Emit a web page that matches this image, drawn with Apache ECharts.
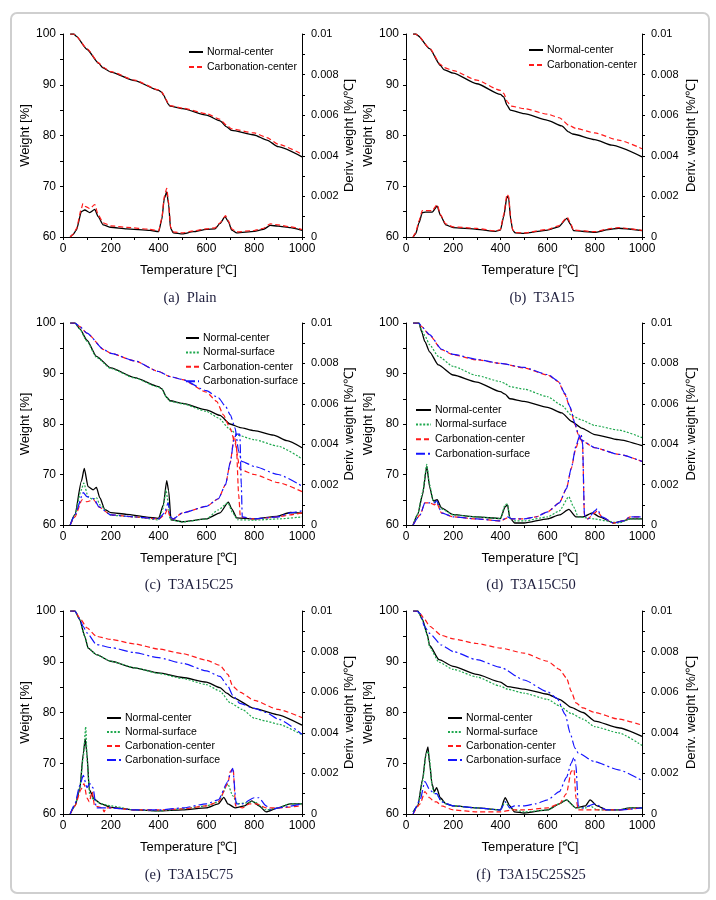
<!DOCTYPE html>
<html><head><meta charset="utf-8">
<script src="https://cdn.jsdelivr.net/npm/echarts@6/dist/echarts.min.js"></script>
<style>html,body{margin:0;padding:0;background:#fff}#c{width:716px;height:900px}</style>
</head><body><div id="c"></div><script>
// ---------- DATA (Temperature [°C], Weight [%]) and (Temperature, Deriv. weight [%/°C]) ----------
// (a) Plain
const a_nc_w=[[30,100],[45,100],[55,99.6],[100,97.0],[150,94.2],[165,93.4],[200,92.5],[300,90.8],[400,88.9],[413,88.5],[423,87.8],[431,87.0],[440,86.2],[448,85.8],[500,85.3],[600,84.0],[657,82.9],[685,81.7],[706,81.0],[800,80.1],[853,79.1],[900,77.8],[1000,75.8]];
const a_cc_w=[[30,100],[45,100],[55,99.6],[100,97.1],[150,94.3],[165,93.5],[200,92.6],[300,90.9],[400,89.0],[413,88.6],[423,87.9],[431,87.1],[440,86.3],[448,85.9],[500,85.4],[600,84.3],[657,83.2],[685,82.0],[706,81.3],[800,80.5],[853,79.6],[900,78.3],[1000,76.3]];
const a_nc_d=[[30,0],[40,0.0001],[56,0.00034],[77,0.00125],[91,0.00133],[112,0.0012],[133,0.00136],[147,0.001],[168,0.0006],[200,0.00048],[266,0.0004],[364,0.00033],[400,0.00026],[413,0.00084],[424,0.0019],[434,0.00222],[442,0.0016],[450,0.00043],[462,0.0002],[500,0.00015],[545,0.00026],[600,0.00038],[636,0.0004],[657,0.00067],[678,0.001],[692,0.00075],[706,0.00034],[727,0.0002],[800,0.00028],[839,0.00038],[867,0.00057],[900,0.00054],[951,0.00046],[1000,0.00033]];
const a_cc_d=[[30,0],[40,0.0001],[56,0.0004],[77,0.0014],[83,0.00165],[95,0.0015],[112,0.0014],[133,0.0016],[147,0.0011],[168,0.0007],[200,0.00055],[266,0.00047],[364,0.00038],[400,0.0003],[413,0.0009],[424,0.002],[434,0.0024],[442,0.0017],[450,0.0005],[462,0.00025],[500,0.0002],[545,0.0003],[600,0.0004],[636,0.00045],[657,0.0007],[680,0.00105],[692,0.0008],[706,0.0004],[727,0.00025],[800,0.00032],[839,0.00043],[867,0.00065],[900,0.0006],[951,0.0005],[1000,0.00037]];
// (b) T3A15
const b_nc_w=[[30,100],[42,100],[50,99.7],[100,97.1],[146,93.8],[160,93.0],[200,92.3],[300,90.2],[400,88.1],[414,87.6],[428,86.0],[442,85.0],[500,84.3],[600,83.0],[660,81.9],[689,80.7],[706,80.3],[800,79.2],[872,78.1],[1000,75.8]];
const b_cc_w=[[30,100],[42,100],[50,99.7],[100,97.2],[146,94.0],[160,93.4],[200,92.8],[300,90.9],[400,88.9],[414,88.3],[430,86.6],[445,85.8],[500,85.3],[600,84.2],[650,83.5],[690,82.0],[720,81.4],[800,80.5],[900,79.1],[1000,77.4]];
const b_nc_d=[[30,0],[41,0.00016],[55,0.0007],[69,0.0012],[83,0.00123],[111,0.00123],[132,0.00152],[146,0.00107],[168,0.0006],[200,0.00046],[300,0.00038],[379,0.00028],[400,0.00034],[414,0.001],[428,0.002],[435,0.0019],[444,0.00084],[452,0.00034],[463,0.0002],[500,0.00018],[600,0.00034],[646,0.0005],[682,0.00092],[696,0.00064],[710,0.00031],[800,0.00023],[858,0.00036],[900,0.00043],[1000,0.00031]];
const b_cc_d=[[30,0],[41,0.0002],[55,0.0008],[69,0.0013],[83,0.0013],[111,0.0013],[132,0.0016],[146,0.0011],[168,0.00065],[200,0.0005],[300,0.00042],[379,0.0003],[400,0.00036],[414,0.0011],[428,0.0021],[435,0.002],[444,0.0009],[452,0.00036],[463,0.00022],[500,0.0002],[600,0.00037],[646,0.00055],[684,0.00097],[696,0.0007],[710,0.00034],[800,0.00026],[858,0.0004],[900,0.00046],[1000,0.00033]];
// (c) T3A15C25
const c_nc_w=[[30,100],[50,100],[70,98.9],[100,96.6],[140,93.4],[200,91.1],[300,89.2],[400,87.4],[413,87.0],[434,85.3],[448,84.6],[500,84.1],[600,82.8],[657,81.7],[699,80.0],[741,79.3],[800,78.7],[881,77.8],[937,76.7],[1000,75.3]];
const c_ns_w=[[30,100],[50,100],[70,98.8],[100,96.4],[140,93.2],[200,91.0],[300,89.1],[400,87.3],[413,86.9],[434,85.2],[448,84.5],[500,84.0],[600,82.5],[650,81.2],[700,78.9],[730,77.8],[800,76.9],[900,75.6],[1000,73.1]];
const c_cc_w=[[30,100],[50,100],[70,99.3],[100,98.0],[172,94.7],[200,94.0],[300,92.5],[400,90.4],[448,89.4],[500,88.8],[600,86.3],[643,84.5],[671,81.8],[699,79.2],[720,76.2],[741,71.0],[800,70.0],[900,68.4],[1000,66.6]];
const c_cs_w=[[30,100],[50,100],[70,99.3],[100,98.0],[172,94.7],[200,94.0],[300,92.5],[400,90.4],[448,89.4],[500,88.8],[600,86.6],[650,85.2],[680,83.5],[700,81.8],[720,79.2],[735,74.6],[748,72.6],[800,71.6],[900,70.0],[1000,67.7]];
const c_nc_d=[[30,0],[50,0.00053],[77,0.00217],[89,0.0028],[105,0.0019],[126,0.00174],[140,0.00186],[154,0.00135],[175,0.00077],[200,0.00061],[266,0.00053],[350,0.00039],[400,0.00033],[420,0.001],[434,0.0022],[442,0.0017],[452,0.00026],[500,0.00016],[600,0.0003],[657,0.0006],[692,0.00113],[706,0.0008],[727,0.00035],[800,0.0003],[895,0.00043],[951,0.00062],[1000,0.00059]];
const c_ns_d=[[30,0],[50,0.0005],[75,0.0017],[87,0.00207],[105,0.0014],[126,0.00125],[140,0.00136],[154,0.001],[200,0.00048],[300,0.0004],[400,0.00025],[418,0.0008],[431,0.00174],[440,0.0011],[448,0.00026],[500,0.00015],[600,0.0003],[650,0.00075],[690,0.0011],[710,0.0006],[730,0.00026],[800,0.00024],[900,0.0003],[1000,0.0004]];
const c_cc_d=[[30,0],[50,0.0004],[80,0.00125],[100,0.00115],[128,0.00125],[150,0.0009],[200,0.0005],[300,0.0004],[400,0.0003],[425,0.0005],[438,0.0008],[448,0.0004],[460,0.0003],[500,0.0006],[600,0.00092],[650,0.0013],[680,0.002],[700,0.0031],[716,0.0044],[725,0.004],[735,0.0015],[742,0.0004],[800,0.0003],[900,0.0004],[950,0.0005],[1000,0.0006]];
const c_cs_d=[[30,0],[50,0.0005],[85,0.0016],[100,0.0014],[130,0.0013],[150,0.0009],[200,0.0005],[300,0.0004],[400,0.0003],[425,0.0006],[440,0.0011],[450,0.0004],[460,0.0003],[500,0.0006],[600,0.00092],[650,0.0013],[680,0.002],[700,0.0031],[715,0.0042],[725,0.0045],[740,0.0045],[746,0.002],[750,0.0004],[800,0.0003],[900,0.0004],[950,0.0006],[1000,0.0007]];
// (d) T3A15C50
const d_nc_w=[[30,100],[55,100],[66,98.3],[80,96.3],[100,94.3],[137,91.7],[200,89.7],[300,88.3],[400,86.4],[420,85.9],[440,85.0],[500,84.5],[600,83.3],[660,82.2],[702,80.5],[744,79.2],[800,77.9],[900,76.9],[1000,75.7]];
const d_ns_w=[[30,100],[55,100],[66,98.6],[80,97.5],[100,95.7],[137,93.4],[200,91.4],[300,89.6],[400,88.4],[420,88.0],[440,87.4],[500,86.9],[600,85.4],[660,83.7],[702,81.7],[744,80.8],[800,79.7],[900,78.8],[1000,77.3]];
const d_cc_w=[[30,100],[55,100],[66,99.3],[100,97.6],[151,94.7],[200,93.7],[300,92.7],[400,92.0],[500,91.1],[600,89.7],[645,88.4],[674,85.8],[695,83.2],[716,79.9],[730,77.9],[744,76.7],[800,75.3],[900,74.0],[1000,72.6]];
const d_cs_w=[[30,100],[55,100],[66,99.3],[100,97.7],[151,94.8],[200,93.8],[300,92.8],[400,92.0],[500,91.2],[600,89.8],[645,88.5],[674,86.0],[695,83.4],[716,80.1],[730,78.0],[744,76.8],[800,75.3],[900,74.0],[1000,72.6]];
const d_nc_d=[[30,0],[50,0.00053],[70,0.0015],[88,0.0029],[100,0.0019],[115,0.0012],[132,0.00125],[150,0.00085],[200,0.00051],[300,0.0004],[400,0.00032],[420,0.0009],[430,0.001],[440,0.00035],[460,0.0001],[500,0.0001],[600,0.0003],[650,0.0005],[690,0.00077],[720,0.0004],[750,0.0004],[790,0.0006],[820,0.0004],[880,0.0001],[920,0.0002],[950,0.0003],[1000,0.0003]];
const d_ns_d=[[30,0],[50,0.00055],[70,0.0016],[88,0.003],[100,0.002],[115,0.0012],[132,0.0011],[150,0.0008],[200,0.0005],[300,0.0004],[400,0.00032],[420,0.001],[430,0.00105],[440,0.00035],[460,0.0002],[500,0.0002],[600,0.0004],[650,0.0007],[690,0.0014],[710,0.0009],[730,0.0004],[800,0.0003],[850,0.0002],[900,0.0001],[950,0.0003],[1000,0.0003]];
const d_cc_d=[[30,0],[60,0.0005],[80,0.0011],[100,0.0011],[120,0.001],[130,0.0011],[150,0.0006],[200,0.0004],[300,0.0003],[400,0.0002],[430,0.00035],[450,0.0003],[500,0.0003],[550,0.0004],[600,0.00065],[650,0.0011],[680,0.0018],[700,0.0028],[720,0.0038],[735,0.0043],[742,0.0044],[748,0.004],[756,0.0005],[770,0.0003],[800,0.0006],[810,0.0007],[830,0.0004],[880,0.0001],[920,0.0002],[950,0.0004],[1000,0.0004]];
const d_cs_d=[[30,0],[60,0.0005],[80,0.0011],[100,0.0011],[120,0.0011],[130,0.0012],[150,0.0006],[200,0.0004],[300,0.0003],[400,0.0002],[430,0.0004],[450,0.0003],[500,0.0003],[550,0.0004],[600,0.00065],[650,0.0011],[680,0.0018],[700,0.0028],[720,0.0039],[735,0.0044],[742,0.0045],[748,0.0041],[756,0.0005],[770,0.0003],[800,0.0007],[810,0.0008],[830,0.0004],[880,0.0001],[920,0.0002],[950,0.0004],[1000,0.0004]];
// (e) T3A15C75
const e_nc_w=[[30,100],[50,100],[70,98.3],[91,95.0],[105,92.7],[140,91.4],[200,90.1],[300,88.8],[400,87.8],[500,86.9],[600,86.0],[657,84.9],[685,83.8],[713,82.9],[800,80.8],[895,79.6],[1000,77.5]];
const e_ns_w=[[30,100],[50,100],[70,98.3],[91,95.0],[105,92.7],[140,91.4],[200,90.1],[300,88.8],[400,87.7],[500,86.7],[600,85.5],[657,84.2],[700,81.9],[750,80.6],[800,78.9],[850,78.3],[900,77.7],[1000,75.6]];
const e_cc_w=[[30,100],[50,100],[70,98.6],[100,96.7],[140,95.0],[200,94.4],[300,93.5],[400,92.5],[500,91.6],[600,90.3],[657,89.3],[690,87.5],[710,85.2],[740,84.0],[800,82.4],[900,80.6],[1000,79.0]];
const e_cs_w=[[30,100],[50,100],[70,98.4],[84,97.0],[100,95.7],[140,93.4],[200,92.8],[300,91.8],[400,90.8],[500,89.7],[600,88.2],[657,87.1],[690,85.2],[710,83.4],[740,81.8],[800,80.8],[850,80.0],[900,78.7],[1000,75.7]];
const e_nc_d=[[30,0],[50,0.0004],[70,0.0012],[85,0.003],[93,0.0037],[100,0.003],[110,0.0012],[130,0.00074],[160,0.0005],[200,0.00033],[300,0.0002],[400,0.00015],[500,0.0002],[600,0.0003],[650,0.0005],[673,0.00082],[690,0.0005],[720,0.0003],[760,0.0004],[790,0.00065],[820,0.0004],[850,0.0001],[900,0.0003],[950,0.0005],[1000,0.0005]];
const e_ns_d=[[30,0],[50,0.0004],[70,0.0013],[85,0.0028],[95,0.0043],[102,0.0025],[112,0.0009],[130,0.0007],[160,0.0005],[200,0.0004],[300,0.0002],[400,0.00015],[500,0.00025],[600,0.0004],[650,0.0006],[690,0.00147],[710,0.0009],[730,0.0005],[800,0.0006],[850,0.0002],[900,0.0003],[950,0.0005],[1000,0.0005]];
const e_cc_d=[[30,0],[50,0.0004],[75,0.0012],[88,0.0015],[100,0.0008],[110,0.0006],[122,0.0011],[132,0.0004],[165,0.0003],[172,0.0001],[180,0.0003],[200,0.0003],[300,0.0002],[400,0.0002],[500,0.00025],[600,0.0004],[650,0.0006],[690,0.0015],[700,0.0021],[712,0.00225],[722,0.0004],[750,0.0003],[780,0.0005],[810,0.0005],[850,0.0003],[900,0.0003],[1000,0.0004]];
const e_cs_d=[[30,0],[50,0.0005],[70,0.0014],[85,0.0019],[100,0.0013],[112,0.0015],[125,0.0013],[140,0.0003],[200,0.0003],[300,0.0002],[400,0.0002],[500,0.0003],[600,0.0005],[650,0.0007],[690,0.0016],[700,0.002],[710,0.00225],[725,0.0005],[750,0.0005],[800,0.0008],[820,0.0008],[850,0.0004],[870,0.0002],[900,0.0003],[1000,0.0005]];
// (f) T3A15C25S25
const f_nc_w=[[30,100],[50,100],[70,98.3],[90,95.4],[100,93.2],[140,90.4],[200,89.1],[300,87.5],[400,86.0],[430,85.1],[500,84.6],[600,83.6],[650,82.6],[700,81.0],[750,80.0],[800,78.3],[900,77.0],[1000,75.3]];
const f_ns_w=[[30,100],[50,100],[70,98.2],[90,95.2],[100,92.9],[140,89.9],[200,88.5],[300,87.0],[400,85.2],[430,84.6],[500,83.8],[600,82.6],[650,81.3],[700,79.8],[750,78.7],[800,77.2],[900,76.0],[1000,73.5]];
const f_cc_w=[[30,100],[45,100],[60,99.5],[80,98.3],[100,97.0],[150,95.2],[200,94.5],[300,93.6],[400,92.7],[500,91.7],[600,90.1],[650,88.5],[680,86.8],[700,84.2],[720,81.9],[750,80.9],[800,80.0],[900,78.7],[1000,77.5]];
const f_cs_w=[[30,100],[45,100],[60,99.5],[78,97.0],[100,95.6],[150,93.3],[200,92.0],[300,90.4],[400,88.9],[500,86.4],[600,84.1],[640,82.8],[675,79.6],[695,76.0],[716,73.0],[730,72.0],[800,70.3],[900,68.7],[1000,66.6]];
const f_nc_d=[[30,0.0001],[50,0.0004],[70,0.0017],[85,0.003],[93,0.0033],[100,0.0025],[110,0.0015],[120,0.0011],[130,0.0013],[145,0.0008],[170,0.0005],[200,0.0004],[300,0.0003],[400,0.0002],[420,0.0008],[440,0.0004],[460,0.0001],[500,0.00005],[600,0.0002],[650,0.0005],[680,0.0007],[720,0.0003],[760,0.0004],[780,0.0007],[810,0.0004],[850,0.0002],[900,0.0002],[950,0.0003],[1000,0.0003]];
const f_ns_d=[[30,0.0001],[50,0.0004],[70,0.0016],[85,0.0029],[93,0.0031],[100,0.0027],[110,0.0014],[120,0.001],[130,0.001],[145,0.0007],[170,0.0005],[200,0.0004],[300,0.0003],[400,0.0002],[420,0.0006],[440,0.0003],[460,0.0002],[500,0.0001],[600,0.0002],[650,0.0005],[680,0.0007],[720,0.0003],[760,0.0003],[780,0.0004],[810,0.0002],[850,0.0002],[900,0.0002],[950,0.0003],[1000,0.0003]];
const f_cc_d=[[30,0],[60,0.0005],[80,0.0011],[100,0.0008],[120,0.0006],[130,0.0006],[150,0.0004],[200,0.0002],[300,0.0001],[400,0.0001],[450,0.0002],[500,0.0002],[600,0.0003],[650,0.0005],[680,0.001],[700,0.0021],[712,0.0022],[720,0.0008],[730,0.0002],[800,0.0002],[900,0.0002],[1000,0.0003]];
const f_cs_d=[[30,0],[60,0.0007],[80,0.0016],[100,0.0012],[120,0.001],[130,0.001],[150,0.0006],[200,0.0004],[300,0.0003],[400,0.0002],[420,0.0006],[440,0.0003],[460,0.0004],[500,0.0004],[550,0.0005],[600,0.0007],[650,0.0011],[680,0.0018],[700,0.0025],[712,0.0028],[720,0.0024],[730,0.0004],[750,0.0003],[800,0.0005],[850,0.0002],[900,0.0002],[1000,0.0003]];

const captions=['(a)  Plain','(b)  T3A15','(c)  T3A15C25','(d)  T3A15C50','(e)  T3A15C75','(f)  T3A15C25S25'];
const seriesNames={nc:'Normal-center',ns:'Normal-surface',cc:'Carbonation-center',cs:'Carbonation-surface'};

// ---------- LAYOUT / STYLE ----------
const FONT='"Liberation Sans", Arial, sans-serif';
const STYLE={
  nc:{color:'#000000',width:1.3,type:'solid'},
  ns:{color:'#1ea84e',width:1.2,type:[2,1.6]},
  cc:{color:'#ff1a1a',width:1.2,type:[5,3]},
  cs:{color:'#1414ff',width:1.2,type:[9,3,2,3]}
};
const panels=[
  {g:[63,34,239,203], lg:{left:188,top:45,gap:1,w:14}, lgap:27, rgap:40, cap:[190,298],
   s:[['nc',a_nc_w,a_nc_d],['cc',a_cc_w,a_cc_d]]},
  {g:[406,34,236,203], lg:{left:528,top:43,gap:1,w:14}, lgap:30, rgap:43, cap:[542,298],
   s:[['nc',b_nc_w,b_nc_d],['cc',b_cc_w,b_cc_d]]},
  {g:[63,323,239,202], lg:{left:185,top:331,gap:0.4,w:13}, lgap:27, rgap:40, cap:[189,585],
   s:[['nc',c_nc_w,c_nc_d],['ns',c_ns_w,c_ns_d],['cc',c_cc_w,c_cc_d],['cs',c_cs_w,c_cs_d]]},
  {g:[406,323,236,202], lg:{left:415,top:403,gap:0.6,w:15}, lgap:30, rgap:43, cap:[531,585],
   s:[['nc',d_nc_w,d_nc_d],['ns',d_ns_w,d_ns_d],['cc',d_cc_w,d_cc_d],['cs',d_cs_w,d_cs_d]]},
  {g:[63,611,239,203], lg:{left:106,top:711,gap:0,w:14}, lgap:27, rgap:40, cap:[189,875],
   s:[['nc',e_nc_w,e_nc_d],['ns',e_ns_w,e_ns_d],['cc',e_cc_w,e_cc_d],['cs',e_cs_w,e_cs_d]]},
  {g:[406,611,236,203], lg:{left:447,top:711,gap:0,w:14}, lgap:30, rgap:43, cap:[531,875],
   s:[['nc',f_nc_w,f_nc_d],['ns',f_ns_w,f_ns_d],['cc',f_cc_w,f_cc_d],['cs',f_cs_w,f_cs_d]]}
];

const option={animation:false,textStyle:{fontFamily:FONT},grid:[],xAxis:[],yAxis:[],legend:[],series:[],
  graphic:[{type:'rect',shape:{x:11,y:13,width:698,height:880,r:6},style:{fill:'none',stroke:'#cfcfcf',lineWidth:2},z:-1}]};

const axLine={show:true,onZero:false,lineStyle:{color:'#000',width:1}};
const axTick={show:true,length:3,lineStyle:{color:'#000',width:1}};

panels.forEach((p,i)=>{
  option.grid.push({left:p.g[0],top:p.g[1],width:p.g[2],height:p.g[3],containLabel:false});
  option.xAxis.push({gridIndex:i,type:'value',min:0,max:1000,interval:100,
    name:'Temperature [℃]',nameLocation:'middle',nameGap:27,
    nameTextStyle:{fontSize:13,color:'#000',fontFamily:FONT,padding:[0,0,0,12]},
    axisLine:axLine,axisTick:axTick,splitLine:{show:false},
    axisLabel:{fontSize:12,color:'#000',margin:6,fontFamily:FONT,formatter:v=>(v%200===0?String(v):'')}});
  option.yAxis.push({gridIndex:i,type:'value',position:'left',min:60,max:100,interval:5,
    name:'Weight [%]',nameLocation:'middle',nameGap:p.lgap,
    nameTextStyle:{fontSize:13,color:'#000',fontFamily:FONT},
    axisLine:axLine,axisTick:axTick,splitLine:{show:false},
    axisLabel:{fontSize:12,color:'#000',margin:7,fontFamily:FONT,formatter:v=>(v%10===0?String(v):'')}});
  option.yAxis.push({gridIndex:i,type:'value',position:'right',min:0,max:0.01,interval:0.001,
    name:'Deriv. weight [%/℃]',nameLocation:'middle',nameGap:p.rgap,
    nameTextStyle:{fontSize:13,color:'#000',fontFamily:FONT},
    axisLine:axLine,axisTick:axTick,splitLine:{show:false},
    axisLabel:{fontSize:11,color:'#000',margin:9,fontFamily:FONT,formatter:v=>{
      const k=Math.round(v*1000); if(k%2) return ''; if(k===0) return '0'; if(k===10) return '0.01'; return (k/1000).toFixed(3);}}});
  option.legend.push({orient:'vertical',left:p.lg.left,top:p.lg.top,padding:0,itemGap:p.lg.gap,
    itemWidth:p.lg.w,itemHeight:8,selectedMode:false,itemStyle:{opacity:0,borderWidth:0},
    textStyle:{fontSize:10.5,color:'#000',fontFamily:FONT,lineHeight:14,padding:[0,0,0,-1]},
    data:p.s.map(x=>seriesNames[x[0]])});
  p.s.forEach(([k,w,d])=>{
    const st=STYLE[k];
    const common={type:'line',name:seriesNames[k],xAxisIndex:i,symbol:'none',showSymbol:false,
      smooth:0.2,smoothMonotone:'x',silent:true,
      lineStyle:{color:st.color,width:st.width,type:st.type},itemStyle:{color:st.color},
      z:(k==='nc'?2:(k==='ns'?3:(k==='cc'?4:5)))};
    option.series.push(Object.assign({},common,{yAxisIndex:2*i,data:w}));
    option.series.push(Object.assign({},common,{yAxisIndex:2*i+1,data:d}));
  });
  option.graphic.push({type:'text',x:p.cap[0],y:p.cap[1],
    style:{text:captions[i],font:'14.5px "Liberation Serif", "Times New Roman", serif',fill:'#1c1c3c',align:'center',verticalAlign:'middle'}});
});

const chart=echarts.init(document.getElementById('c'),null,{renderer:'canvas'});
chart.setOption(option);
</script></body></html>
